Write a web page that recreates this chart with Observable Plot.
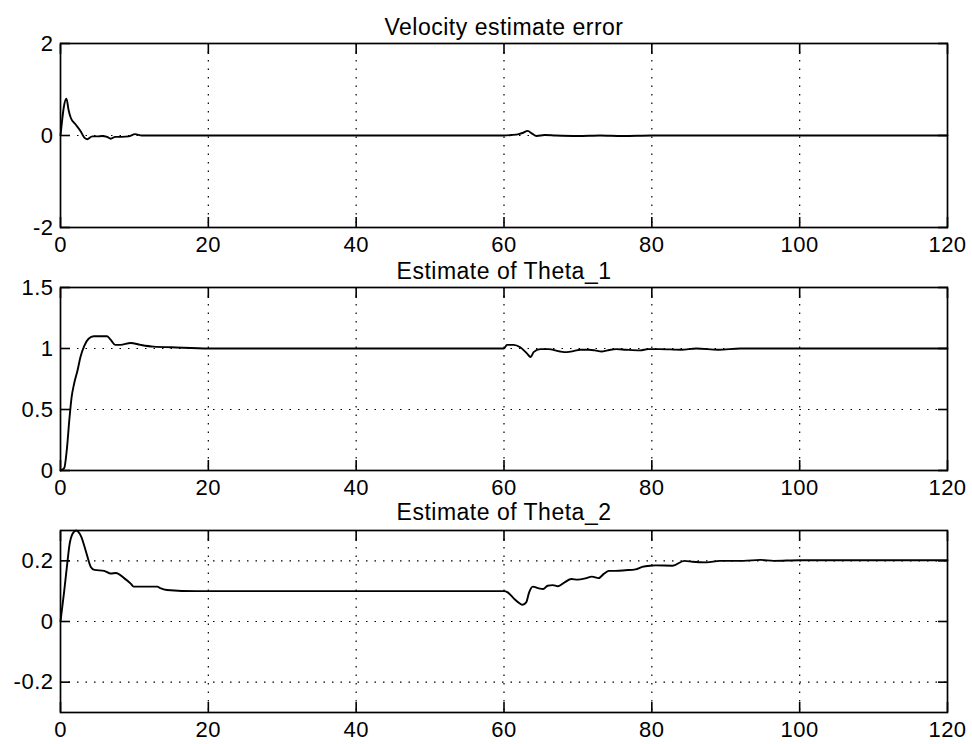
<!DOCTYPE html>
<html>
<head>
<meta charset="utf-8">
<script src="https://cdn.jsdelivr.net/npm/d3@7"></script>
<script src="https://cdn.jsdelivr.net/npm/@observablehq/plot@0.6"></script>
<style>
  html, body { margin: 0; padding: 0; background: white; }
  #wrap { position: relative; width: 972px; height: 744px; overflow: hidden; }
  .panel { position: absolute; left: 0; }
  .panel svg { overflow: visible; }
  .panel svg text { letter-spacing: 0.5px; }
</style>
</head>
<body>
<div id="wrap"></div>
<script>
// ---- data ----
const titles = ["Velocity estimate error", "Estimate of Theta_1", "Estimate of Theta_2"];
const xTicks = [0, 20, 40, 60, 80, 100, 120];
const xGrid = [20, 40, 60, 80, 100];

const velT = [0, 0.2, 0.45, 0.8, 1.1, 1.4, 2.0, 2.7, 3.2, 3.6, 4.3, 5.0, 5.6, 6.3, 6.8, 7.4, 8.3, 9.2, 10.1, 11, 15, 20, 30, 40, 50, 60, 61, 62, 62.6, 63.2, 63.8, 64.4, 65.5, 67, 70, 73, 76, 80, 90, 100, 110, 120];
const velV = [0, 0.3, 0.62, 0.8, 0.55, 0.38, 0.25, 0.1, -0.04, -0.08, -0.02, -0.02, -0.01, -0.03, -0.07, -0.03, -0.03, -0.02, 0.03, 0, 0, 0, 0, 0, 0, 0, 0.01, 0.03, 0.06, 0.1, 0.04, -0.01, 0.01, 0, -0.01, 0, -0.01, 0, 0, 0, 0, 0];
const velTicks = [-2, 0, 2];
const velGrid = [0];

const th1T = [0, 0.5, 0.9, 1.2, 1.5, 1.8, 2.3, 2.7, 3.2, 3.8, 4.5, 5.5, 6.3, 6.8, 7.4, 8.1, 9.5, 10.8, 12.6, 15, 20, 30, 40, 50, 60, 60.4, 61.3, 62.2, 63.1, 63.6, 64.0, 64.9, 66, 67.6, 68.5, 69.5, 70.3, 71.5, 72.3, 73.2, 74, 75.2, 76.5, 78.4, 79.5, 81, 84, 86, 89, 92, 100, 110, 120];
const th1V = [0, 0.02, 0.2, 0.42, 0.6, 0.7, 0.82, 0.93, 1.02, 1.08, 1.1, 1.1, 1.1, 1.07, 1.03, 1.03, 1.045, 1.03, 1.015, 1.01, 1.0, 1.0, 1.0, 1.0, 1.0, 1.03, 1.03, 1.01, 0.96, 0.93, 0.97, 0.995, 0.995, 0.975, 0.97, 0.98, 0.99, 0.99, 0.985, 0.975, 0.985, 0.995, 0.99, 0.985, 0.995, 0.995, 0.99, 1.0, 0.99, 1.0, 1.0, 1.0, 1.0];
const th1Ticks = [0, 0.5, 1, 1.5];
const th1Grid = [0.5, 1];

const th2T = [0, 0.5, 1.0, 1.2, 1.65, 2.1, 2.8, 3.45, 4.1, 4.6, 5.9, 6.8, 7.5, 8.6, 9.5, 9.9, 11.3, 13.1, 13.5, 14.4, 18.4, 30, 40, 50, 60, 60.5, 61.4, 62.1, 62.5, 63, 63.4, 63.9, 64.6, 65.3, 65.9, 66.6, 67.3, 68.2, 69.1, 70, 71, 71.9, 72.8, 73.5, 74.2, 75.1, 76.4, 77.8, 78.7, 79.8, 80.5, 82.8, 84.4, 85.5, 87.4, 89.2, 92.4, 94.7, 96.5, 100, 110, 120];
const th2V = [0, 0.1, 0.21, 0.25, 0.29, 0.3, 0.28, 0.23, 0.18, 0.17, 0.167, 0.158, 0.16, 0.143, 0.125, 0.115, 0.115, 0.115, 0.11, 0.104, 0.1, 0.1, 0.1, 0.1, 0.1, 0.096, 0.074, 0.06, 0.055, 0.063, 0.096, 0.115, 0.11, 0.107, 0.118, 0.12, 0.116, 0.129, 0.14, 0.138, 0.142, 0.148, 0.143, 0.157, 0.167, 0.167, 0.169, 0.172, 0.18, 0.184, 0.185, 0.184, 0.2, 0.197, 0.195, 0.2, 0.2, 0.203, 0.2, 0.202, 0.202, 0.202];
const th2Ticks = [-0.2, 0, 0.2];
const th2Grid = [-0.2, 0, 0.2];

// ---- drawing ----
const font = "'Liberation Sans', Arial, Helvetica, sans-serif";
const dots = "1.5,7";

function panel({title, T, V, yDomain, yTicks, yGrid, top, height, marginTop, marginBottom, titleDy}) {
  const data = T.map((t, i) => ({t, v: V[i]}));
  const fmt = d => String(d);
  const chart = Plot.plot({
    width: 972,
    height,
    marginLeft: 60,
    marginRight: 25,
    marginTop,
    marginBottom,
    style: {fontFamily: font, fontSize: "22px", background: "transparent", overflow: "visible", color: "black"},
    x: {domain: [0, 120]},
    y: {domain: yDomain},
    marks: [
      Plot.gridX(xGrid, {stroke: "black", strokeOpacity: 1, strokeWidth: 1.2, strokeDasharray: dots}),
      Plot.gridY(yGrid, {stroke: "black", strokeOpacity: 1, strokeWidth: 1.2, strokeDasharray: dots}),
      Plot.axisX(xTicks, {anchor: "bottom", tickSize: -10, tickPadding: 19, tickFormat: fmt, label: null, strokeWidth: 1.6, fontSize: 22}),
      Plot.axisX(xTicks, {anchor: "top", tickSize: -10, tickFormat: () => "", label: null, strokeWidth: 1.6}),
      Plot.axisY(yTicks, {anchor: "left", tickSize: -10, tickPadding: 17, tickFormat: fmt, label: null, strokeWidth: 1.6, fontSize: 22}),
      Plot.axisY(yTicks, {anchor: "right", tickSize: -10, tickFormat: () => "", label: null, strokeWidth: 1.6}),
      Plot.frame({stroke: "black", strokeWidth: 1.7}),
      Plot.line(data, {x: "t", y: "v", stroke: "black", strokeWidth: 1.9, curve: "monotone-x"}),
      Plot.text([title], {frameAnchor: "top", dy: titleDy, fontSize: 23, fill: "black"})
    ]
  });
  const div = document.createElement("div");
  div.className = "panel";
  div.style.top = top + "px";
  div.appendChild(chart);
  document.getElementById("wrap").appendChild(div);
}

panel({title: titles[0], T: velT, V: velV, yDomain: [-2, 2], yTicks: velTicks, yGrid: velGrid,
  top: 0, height: 258, marginTop: 43, marginBottom: 31, titleDy: -25});
panel({title: titles[1], T: th1T, V: th1V, yDomain: [0, 1.5], yTicks: th1Ticks, yGrid: th1Grid,
  top: 250, height: 250, marginTop: 37, marginBottom: 30, titleDy: -25});
panel({title: titles[2], T: th2T, V: th2V, yDomain: [-0.3, 0.3], yTicks: th2Ticks, yGrid: th2Grid,
  top: 494, height: 250, marginTop: 36, marginBottom: 32, titleDy: -27});
</script>
</body>
</html>
